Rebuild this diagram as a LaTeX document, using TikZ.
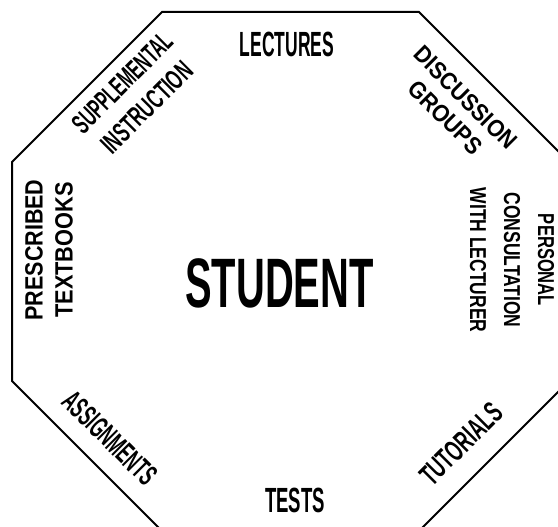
\documentclass[tikz,border=0pt]{standalone}
\usepackage{fontspec}
\setmainfont{Liberation Sans}
\newcommand{\sx}[2]{\scalebox{#1}[1]{#2}}
\begin{document}
\begin{tikzpicture}[x=1pt,y=-1pt,
  lbl/.style={font=\bfseries, inner sep=0pt, align=center},
  edge/.style={line width=2pt, line join=miter}]
\useasboundingbox (0,0) rectangle (558,527);
\clip (0,0) rectangle (558,527);
\draw[edge] (162,12) -- (419,12) -- (569,162) -- (569,381) -- (419,531) -- (162,531) -- (12,381) -- (12,162) -- cycle;

\node[lbl, font=\bfseries\fontsize{70}{80}\selectfont] (student) at (279.5,283) {\sx{0.57}{STUDENT}};
\node[lbl, font=\bfseries\fontsize{35}{40}\selectfont] (lectures) at (287,44) {\sx{0.5}{LECTURES}};
\node[lbl, font=\bfseries\fontsize{35}{40}\selectfont] (tests) at (295,500) {\sx{0.53}{TESTS}};
\node[lbl, rotate=90, font=\bfseries\fontsize{25}{30}\selectfont] (books) at (49,250) {\sx{0.86}{PRESCRIBED}\\\sx{0.87}{TEXTBOOKS}};
\node[lbl, rotate=-90, font=\bfseries\fontsize{23}{34}\selectfont] (personal) at (512,260) {\sx{0.72}{PERSONAL}\\\sx{0.76}{CONSULTATION}\\\sx{0.76}{WITH LECTURER}};
\node[lbl, rotate=45, font=\bfseries\fontsize{28}{35}\selectfont] (suppl) at (134.5,95) {\sx{0.57}{SUPPLEMENTAL}\\\sx{0.61}{INSTRUCTION}};
\node[lbl, rotate=-45, font=\bfseries\fontsize{24}{28}\selectfont] (disc) at (455.5,107.5) {\sx{0.9}{DISCUSSION}\\\sx{0.9}{GROUPS}};
\node[lbl, rotate=-45, font=\bfseries\fontsize{30}{30}\selectfont] (assign) at (110,438) {\sx{0.54}{ASSIGNMENTS}};
\node[lbl, rotate=45, font=\bfseries\fontsize{30}{30}\selectfont] (tut) at (461,444) {\sx{0.6}{TUTORIALS}};
\end{tikzpicture}
\end{document}
